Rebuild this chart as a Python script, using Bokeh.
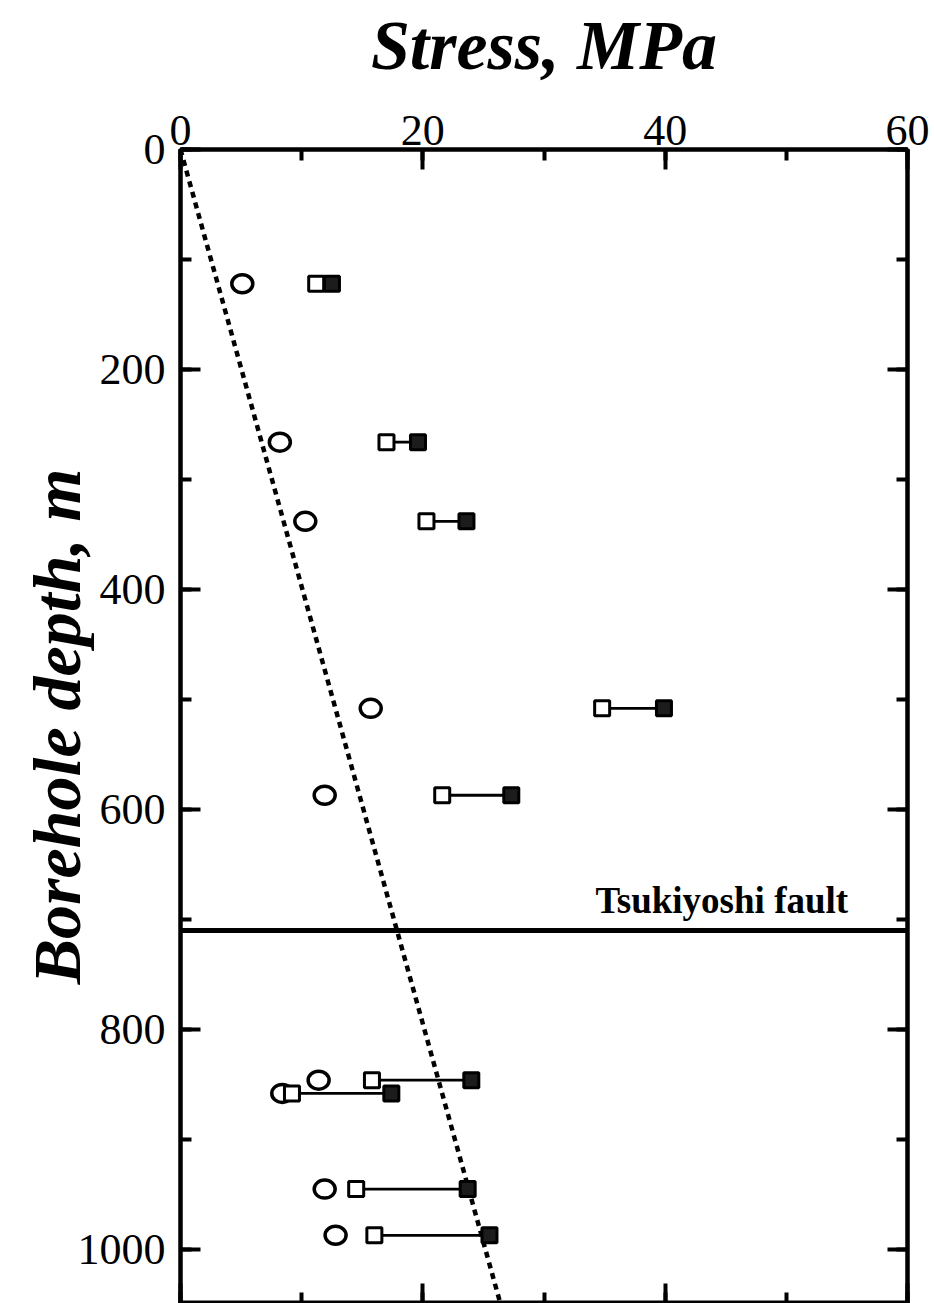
from bokeh.plotting import figure
from bokeh.models import (Range1d, LinearAxis, SingleIntervalTicker, Label, Span,
                          ColumnDataSource, CustomJSTickFormatter)
from bokeh.embed import file_html
from bokeh.resources import INLINE

# Measured stresses against borehole depth
depth_m = [122, 266, 338, 508, 587, 846, 858, 945, 987]
sh_min = [5.1, 8.2, 10.3, 15.7, 11.9, 11.4, 8.4, 11.9, 12.8]
sH_lower = [11.2, 17.0, 20.3, 34.8, 21.6, 15.8, 9.2, 14.5, 16.0]
sH_upper = [12.5, 19.6, 23.6, 39.9, 27.3, 24.0, 17.4, 23.7, 25.5]

# Overburden (vertical) stress line
overburden_stress = [0.0, 26.4]
overburden_depth = [0.0, 1049.0]

fault_depth = 710
fault_name = "Tsukiyoshi fault"

SERIF = "Liberation Serif"

src = ColumnDataSource(dict(depth=depth_m, shmin=sh_min, lo=sH_lower, hi=sH_upper))

p = figure(
    width=934, height=1303,
    x_range=Range1d(0, 60), y_range=Range1d(1049, 0),
    x_axis_location="above",
    output_backend="svg", toolbar_location=None,
    min_border_left=180, min_border_right=27, min_border_top=149, min_border_bottom=0,
)
p.grid.visible = False
p.outline_line_color = "black"
p.outline_line_width = 4
p.background_fill_color = "white"
p.border_fill_color = "white"

xticker = SingleIntervalTicker(interval=20, num_minor_ticks=2)
yticker = SingleIntervalTicker(interval=200, num_minor_ticks=2)


def style_axis(ax, labels=True):
    ax.axis_line_color = "black"
    ax.axis_line_width = 4
    ax.major_tick_line_width = 4
    ax.minor_tick_line_width = 4
    ax.major_tick_in = 20
    ax.major_tick_out = 0
    ax.minor_tick_in = 11
    ax.minor_tick_out = 0
    if labels:
        ax.major_label_text_font = SERIF
        ax.major_label_text_font_size = "44px"
        ax.major_label_text_color = "black"
        ax.axis_label_text_font = SERIF
        ax.axis_label_text_font_size = "70px"
        ax.axis_label_text_font_style = "bold italic"
        ax.axis_label_text_color = "black"
    else:
        # frame ticks only, no numbers on these sides
        ax.formatter = CustomJSTickFormatter(code="return ''")
        ax.major_label_standoff = 0


xa = p.xaxis[0]
xa.ticker = xticker
xa.axis_label = "Stress, MPa"
style_axis(xa)
xa.major_label_standoff = 5
xa.axis_label_standoff = 29

ya = p.yaxis[0]
ya.ticker = yticker
ya.axis_label = "Borehole depth, m"
style_axis(ya)
ya.axis_label_text_font_size = "68px"
ya.major_label_standoff = 15
ya.axis_label_standoff = -20

bottom = LinearAxis(ticker=SingleIntervalTicker(interval=20, num_minor_ticks=2))
style_axis(bottom, labels=False)
p.add_layout(bottom, "below")

right = LinearAxis(ticker=SingleIntervalTicker(interval=200, num_minor_ticks=2))
style_axis(right, labels=False)
p.add_layout(right, "right")

# Overburden gradient
p.line(overburden_stress, overburden_depth, line_color="black", line_width=4.5, line_dash="6 5")

# Fault
p.add_layout(Span(location=fault_depth, dimension="width", line_color="black", line_width=5))
p.add_layout(Label(x=55.1, y=683, text=fault_name, text_align="right", text_baseline="alphabetic",
                   text_font=SERIF, text_font_size="37px", text_font_style="bold", text_color="black"))

# SHmax range: lower (open) to upper (filled)
p.segment(x0="lo", y0="depth", x1="hi", y1="depth", source=src, line_color="black", line_width=2.8)

# Shmin
p.ellipse(x="shmin", y="depth", width=21, height=18, width_units="screen", height_units="screen",
          source=src, fill_color=None, line_color="black", line_width=3.5)

p.scatter(x="lo", y="depth", source=src, marker="square", size=15,
          fill_color="white", line_color="black", line_width=3)
p.scatter(x="hi", y="depth", source=src, marker="square", size=15,
          fill_color="#1c1c1c", line_color="black", line_width=3)

open("out.html", "w").write(file_html(p, INLINE))
